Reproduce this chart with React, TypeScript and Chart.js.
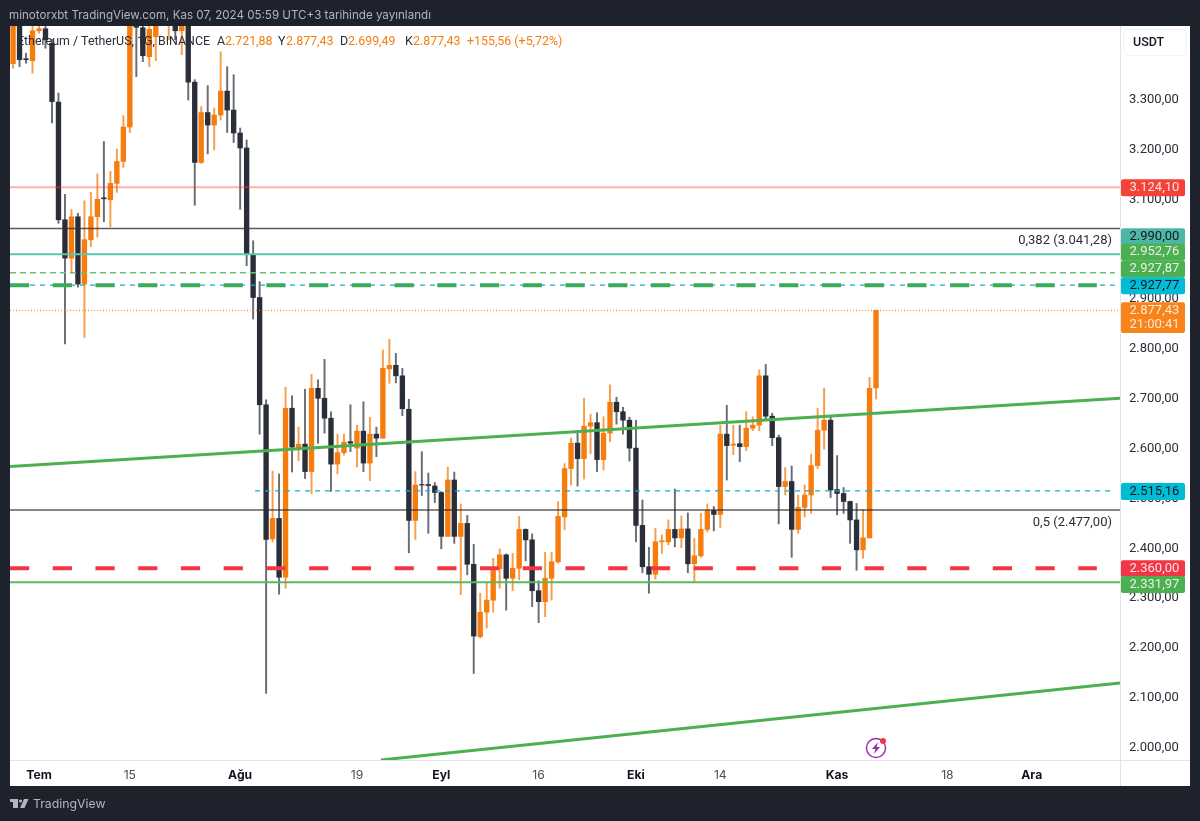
import { useEffect, useRef } from "react"
import { Chart, registerables } from "chart.js"

Chart.register(...registerables)

// days counted from 1 Jul 2024, first candle is 27 Jun
const firstDay = -4
const xMin = -4.47
const xMax = 166.6
const yMin = 1975.5
const yMax = 3447.6

const opens = [
  3372, 3470, 3382, 3378, 3438, 3442, 3413, 3295, 3059, 2982, 3065, 2930, 3019, 3065, 3103, 3099, 3132, 3176, 3245, 3480,
  3444, 3386, 3426, 3470, 3455, 3470, 3438, 3480, 3335, 3174, 3274, 3249, 3269, 3317, 3279, 3233, 3203, 2989, 2903, 2688,
  2419, 2460, 2342, 2681, 2599, 2609, 2554, 2721, 2701, 2661, 2569, 2592, 2614, 2601, 2635, 2571, 2629, 2621, 2760, 2767,
  2746, 2679, 2456, 2528, 2528, 2525, 2512, 2424, 2537, 2424, 2450, 2368, 2223, 2272, 2296, 2359, 2387, 2340, 2360, 2438,
  2417, 2315, 2293, 2340, 2373, 2463, 2560, 2611, 2580, 2645, 2652, 2578, 2631, 2693, 2674, 2657, 2601, 2446, 2363, 2348,
  2413, 2413, 2438, 2421, 2439, 2369, 2385, 2438, 2476, 2468, 2629, 2607, 2610, 2604, 2641, 2647, 2746, 2665, 2622, 2524,
  2534, 2438, 2482, 2507, 2566, 2637, 2657, 2518, 2510, 2494, 2457, 2397, 2421, 2721.88,
]
const highs = [
  3495, 3490, 3393, 3447, 3448, 3448, 3421, 3313, 3110, 3080, 3072, 3097, 3114, 3151, 3216, 3156, 3201, 3268, 3495, 3490,
  3460, 3460, 3470, 3510, 3490, 3485, 3490, 3495, 3340, 3286, 3328, 3283, 3396, 3366, 3350, 3243, 3219, 3017, 2935, 2698,
  2555, 2549, 2723, 2706, 2643, 2719, 2749, 2738, 2779, 2674, 2629, 2629, 2688, 2647, 2694, 2663, 2643, 2798, 2819, 2791,
  2761, 2699, 2554, 2594, 2551, 2532, 2514, 2563, 2553, 2489, 2466, 2408, 2310, 2332, 2380, 2399, 2389, 2390, 2464, 2439,
  2429, 2335, 2392, 2392, 2494, 2570, 2621, 2631, 2701, 2669, 2672, 2664, 2728, 2703, 2683, 2663, 2657, 2497, 2402, 2440,
  2427, 2457, 2519, 2465, 2471, 2420, 2470, 2489, 2484, 2647, 2687, 2647, 2647, 2674, 2664, 2758, 2769, 2671, 2627, 2562,
  2565, 2507, 2527, 2589, 2681, 2721, 2667, 2586, 2522, 2495, 2490, 2478, 2743, 2877.43,
]
const lows = [
  3363, 3366, 3373, 3353, 3433, 3403, 3253, 3052, 2810, 2955, 2924, 2823, 3005, 3024, 3055, 3045, 3114, 3164, 3234, 3346,
  3376, 3366, 3378, 3452, 3420, 3420, 3390, 3299, 3088, 3172, 3191, 3199, 3259, 3234, 3214, 3080, 2967, 2860, 2629, 2109,
  2413, 2308, 2320, 2553, 2576, 2540, 2510, 2611, 2631, 2514, 2549, 2587, 2594, 2563, 2554, 2536, 2584, 2621, 2731, 2732,
  2666, 2391, 2418, 2506, 2430, 2492, 2399, 2424, 2410, 2307, 2347, 2149, 2220, 2240, 2272, 2320, 2276, 2315, 2337, 2375,
  2283, 2251, 2263, 2296, 2370, 2437, 2527, 2525, 2539, 2590, 2554, 2557, 2614, 2649, 2629, 2575, 2413, 2351, 2310, 2338,
  2390, 2407, 2403, 2401, 2351, 2333, 2382, 2433, 2435, 2442, 2537, 2588, 2574, 2596, 2636, 2636, 2657, 2606, 2449, 2507,
  2382, 2430, 2463, 2470, 2560, 2599, 2502, 2467, 2470, 2410, 2356, 2380, 2421, 2699.49,
]
const closes = [
  3470, 3380, 3380, 3438, 3442, 3420, 3296, 3059, 2982, 3065, 2930, 3019, 3065, 3100, 3101, 3132, 3176, 3245, 3480, 3445,
  3388, 3441, 3455, 3500, 3480, 3438, 3470, 3335, 3174, 3274, 3249, 3269, 3317, 3279, 3233, 3203, 2991, 2903, 2688, 2418,
  2460, 2342, 2681, 2603, 2609, 2554, 2721, 2701, 2661, 2569, 2592, 2613, 2611, 2635, 2571, 2629, 2621, 2761, 2767, 2746,
  2680, 2456, 2527, 2527, 2526, 2512, 2424, 2537, 2424, 2450, 2368, 2224, 2272, 2296, 2359, 2387, 2340, 2360, 2438, 2417,
  2315, 2293, 2340, 2373, 2464, 2560, 2611, 2580, 2645, 2652, 2578, 2631, 2693, 2674, 2657, 2601, 2446, 2363, 2348, 2413,
  2415, 2438, 2421, 2439, 2369, 2385, 2438, 2476, 2468, 2629, 2606, 2609, 2604, 2641, 2647, 2746, 2665, 2622, 2524, 2534,
  2438, 2482, 2507, 2566, 2637, 2657, 2517, 2510, 2494, 2457, 2397, 2421, 2721, 2877.43,
]

const xTickDays = [0, 14, 31, 49, 62, 77, 92, 105, 123, 140, 153]
const xTickLabels = ["Tem", "15", "Ağu", "19", "Eyl", "16", "Eki", "14", "Kas", "18", "Ara"]
const monthTicks = ["Tem", "Ağu", "Eyl", "Eki", "Kas", "Ara"]

const yTicks = [2000, 2100, 2200, 2300, 2400, 2500, 2600, 2700, 2800, 2900, 3000, 3100, 3200, 3300]
const yTickLabels = [
  "2.000,00", "2.100,00", "2.200,00", "2.300,00", "2.400,00", "2.500,00", "2.600,00",
  "2.700,00", "2.800,00", "2.900,00", "3.000,00", "3.100,00", "3.200,00", "3.300,00",
]

// price levels drawn on the chart
const pinkLevel = 3124.1
const fib382Level = 3041.28
const tealLevel = 2990
const thinGreenLevel = 2952.76
const thickGreenLevel = 2927.87
const cyanLevel = 2927.77
const lastPrice = 2877.43
const lowerCyanLevel = 2515.16
const fib5Level = 2477
const redLevel = 2360
const greenLevel = 2331.97

// trend lines as [day, price]
const upperTrend = [[xMin, 2564], [xMax, 2701]]
const lowerTrend = [[52.7, yMin], [xMax, 2130]]

const fibLabels = ["0,382 (3.041,28)", "0,5 (2.477,00)"]
const fibValues = [fib382Level, fib5Level]

const tagTexts = ["3.124,10", "2.990,00", "2.952,76", "2.927,87", "2.927,77", "2.877,43", "21:00:41", "2.515,16", "2.360,00", "2.331,97"]
const tagPrices = [3124.1, 3026, 2995, 2961, 2927.77, 2877.43, 2850, 2515.16, 2360, 2328.6]

const UP = "#f67c0e"
const DOWN = "#2a2e39"
const FONT = "Inter, 'Noto Sans', sans-serif"
const NUM_FONT = "Roboto, 'Noto Sans', sans-serif"

const tagFills = ["#f44336", "#4db6a4", "#4caf50", "#4caf50", "#00bcd4", "#f7841a", "#f7841a", "#00bcd4", "#f23645", "#4caf50"]
const tagInk = ["#fde3e1", "#131722", "#e4f3e5", "#e4f3e5", "#131722", "#fde9d6", "#fde9d6", "#131722", "#fde3e5", "#e4f3e5"]

const candleDays = opens.map((_, i) => i + firstDay)
const candleColors = opens.map((o, i) => (closes[i] >= o ? UP : DOWN))
const wickColors = opens.map((o, i) => (closes[i] >= o ? "rgba(246,124,14,0.75)" : "rgba(42,46,57,0.7)"))

function level(label: string, value: number, color: string, width: number, dash: number[] = [], from = xMin, to = xMax) {
  return {
    type: "line" as const,
    label,
    data: [{ x: from, y: value }, { x: to, y: value }],
    borderColor: color,
    borderWidth: width,
    borderDash: dash,
    pointRadius: 0,
    order: 1,
  }
}

function trend(label: string, pts: number[][]) {
  return {
    type: "line" as const,
    label,
    data: pts.map((p) => ({ x: p[0], y: p[1] })),
    borderColor: "#4caf50",
    borderWidth: 3,
    pointRadius: 0,
    order: 1,
  }
}

const overlay = {
  id: "overlay",
  beforeDraw(chart: any) {
    const { ctx } = chart
    ctx.save()
    ctx.fillStyle = "#1e222d"
    ctx.fillRect(0, 0, 1200, 821)
    ctx.fillStyle = "#ffffff"
    ctx.fillRect(10, 26, 1180, 760)
    ctx.restore()
  },
  afterDraw(chart: any) {
    const { ctx, scales } = chart
    const y = scales.y
    ctx.save()

    // axis rules
    ctx.strokeStyle = "#e0e3eb"
    ctx.lineWidth = 1
    ctx.beginPath()
    ctx.moveTo(1120.5, 26)
    ctx.lineTo(1120.5, 786)
    ctx.moveTo(10, 760.5)
    ctx.lineTo(1190, 760.5)
    ctx.stroke()

    // header and legend
    ctx.textBaseline = "middle"
    ctx.textAlign = "left"
    ctx.font = `11.6px ${FONT}`
    ctx.fillStyle = "#b2b5be"
    ctx.fillText("minotorxbt TradingView.com, Kas 07, 2024 05:59 UTC+3 tarihinde yayınlandı", 9, 15.5)

    ctx.font = `12.4px ${NUM_FONT}`
    ctx.fillStyle = "#2a2e39"
    ctx.fillText("Ethereum / TetherUS, 1G, BINANCE", 17, 41.5)
    const ohlc: [string, string, number, number][] = [
      ["A", "2.721,88", 217, 225],
      ["Y", "2.877,43", 278, 286],
      ["D", "2.699,49", 340, 348],
      ["K", "2.877,43", 405, 413],
    ]
    ohlc.forEach(([key, val, kx, vx]) => {
      ctx.fillStyle = "#2a2e39"
      ctx.fillText(key, kx, 41.5)
      ctx.fillStyle = UP
      ctx.fillText(val, vx, 41.5)
    })
    ctx.fillText("+155,56 (+5,72%)", 467, 41.5)

    // fibonacci labels
    ctx.textAlign = "right"
    ctx.fillStyle = "#2a2e39"
    ctx.font = `13px ${NUM_FONT}`
    fibLabels.forEach((t, i) => {
      ctx.fillText(t, 1112, y.getPixelForValue(fibValues[i]) + 12.5)
    })

    // USDT box
    ctx.strokeStyle = "#f0f3fa"
    ctx.beginPath()
    ctx.roundRect(1124, 29.5, 62, 26, 4)
    ctx.stroke()
    ctx.textAlign = "left"
    ctx.fillStyle = "#131722"
    ctx.font = `500 12.5px ${NUM_FONT}`
    ctx.fillText("USDT", 1133, 42.5)

    // price tags, they sit on top of the tick labels
    ctx.font = `13px ${NUM_FONT}`
    tagTexts.forEach((t, i) => {
      const py = y.getPixelForValue(tagPrices[i])
      ctx.fillStyle = tagFills[i]
      ctx.beginPath()
      ctx.roundRect(1121, py - 8, 64, 17, 2)
      ctx.fill()
    })
    tagTexts.forEach((t, i) => {
      const py = y.getPixelForValue(tagPrices[i])
      ctx.fillStyle = tagInk[i]
      ctx.fillText(t, 1129.5, py + 0.5)
    })

    // bolt badge
    ctx.strokeStyle = "#9c27b0"
    ctx.lineWidth = 1.4
    ctx.beginPath()
    ctx.arc(876, 748, 9.5, 0, Math.PI * 2)
    ctx.stroke()
    ctx.fillStyle = "#9c27b0"
    ctx.beginPath()
    ctx.moveTo(878, 742)
    ctx.lineTo(872, 749)
    ctx.lineTo(875.5, 749)
    ctx.lineTo(874, 754)
    ctx.lineTo(880, 747)
    ctx.lineTo(876.5, 747)
    ctx.closePath()
    ctx.fill()
    ctx.fillStyle = "#f23645"
    ctx.beginPath()
    ctx.arc(883, 741, 3, 0, Math.PI * 2)
    ctx.fill()

    // footer logo
    ctx.fillStyle = "#b2b5be"
    ctx.fillRect(10, 799, 8, 3)
    ctx.fillRect(13, 799, 5, 9)
    ctx.beginPath()
    ctx.arc(20.5, 801, 1.6, 0, Math.PI * 2)
    ctx.fill()
    ctx.beginPath()
    ctx.moveTo(24, 799)
    ctx.lineTo(28.5, 799)
    ctx.lineTo(24.5, 808)
    ctx.lineTo(20, 808)
    ctx.closePath()
    ctx.fill()
    ctx.font = `12.3px ${FONT}`
    ctx.fillText("TradingView", 33, 804.5)

    ctx.restore()
  },
}

export default function App() {
  const chartRef = useRef<HTMLCanvasElement>(null)

  useEffect(() => {
    if (!chartRef.current) return

    const chart = new Chart(chartRef.current, {
      type: "bar",
      data: {
        datasets: [
          {
            label: "Wicks",
            data: candleDays.map((d, i) => ({ x: d, y: [lows[i], highs[i]] })),
            backgroundColor: wickColors,
            barThickness: 1.3,
            grouped: false,
            order: 3,
          },
          {
            label: "Bodies",
            data: candleDays.map((d, i) => ({ x: d, y: [opens[i], closes[i]] })),
            backgroundColor: candleColors,
            barThickness: 4.7,
            grouped: false,
            order: 2,
          },
          level("Pink", pinkLevel, "rgba(244,67,54,0.4)", 2),
          level("Fib 0.382", fib382Level, "rgba(50,50,50,0.8)", 1.5),
          level("Teal", tealLevel, "#5cc7b2", 2),
          level("Thin green", thinGreenLevel, "#6cbd70", 1.3, [6, 4], xMin, 165.8),
          level("Cyan", cyanLevel, "#14aecd", 1.3, [5, 5], xMin, 165.8),
          level("Thick green", thickGreenLevel, "#43a847", 4, [19.2, 23.53], xMin, 163.03),
          level("Last", lastPrice, "rgba(246,124,14,0.8)", 1.2, [1, 2]),
          level("Lower cyan", lowerCyanLevel, "#14aecd", 1.3, [5, 5], 33.3, 165.8),
          level("Fib 0.5", fib5Level, "rgba(40,40,40,0.75)", 1.5),
          level("Red", redLevel, "#f23645", 4, [19.2, 23.53], xMin, 163.03),
          level("Green", greenLevel, "#5cb85f", 2),
          trend("Upper trend", upperTrend),
          trend("Lower trend", lowerTrend),
        ] as any,
      },
      options: {
        responsive: false,
        animation: false,
        layout: { padding: { left: 10, top: 26, right: 10, bottom: 35 } },
        plugins: { legend: { display: false }, tooltip: { enabled: false } },
        scales: {
          x: {
            type: "linear",
            min: xMin,
            max: xMax,
            offset: false,
            grid: { display: false, drawTicks: false },
            border: { display: false },
            afterFit: (s: any) => {
              s.height = 26
            },
            afterBuildTicks: (s: any) => {
              s.ticks = xTickDays.map((value) => ({ value }))
            },
            ticks: {
              autoSkip: false,
              maxRotation: 0,
              padding: 8,
              callback: (_v: any, i: number) => xTickLabels[i],
              font: (c: any) => ({
                family: FONT,
                size: 12.2,
                weight: monthTicks.includes(xTickLabels[c.index]) ? "bold" : "normal",
              }),
              color: (c: any) => (monthTicks.includes(xTickLabels[c.index]) ? "#131722" : "#4a4e59"),
            },
          },
          y: {
            type: "linear",
            position: "right",
            min: yMin,
            max: yMax,
            grid: { display: false, drawTicks: false },
            border: { display: false },
            afterFit: (s: any) => {
              s.width = 70
            },
            afterBuildTicks: (s: any) => {
              s.ticks = yTicks.map((value) => ({ value }))
            },
            ticks: {
              autoSkip: false,
              padding: 9,
              crossAlign: "near",
              callback: (_v: any, i: number) => yTickLabels[i],
              font: { family: NUM_FONT, size: 13 },
              color: "#2a2e39",
            },
          },
        },
      },
      plugins: [overlay],
    } as any)

    return () => chart.destroy()
  }, [])

  return (
    <div style={{ position: "fixed", inset: 0, background: "#1e222d" }}>
      <canvas ref={chartRef} width={1200} height={821} style={{ display: "block" }} />
    </div>
  )
}
